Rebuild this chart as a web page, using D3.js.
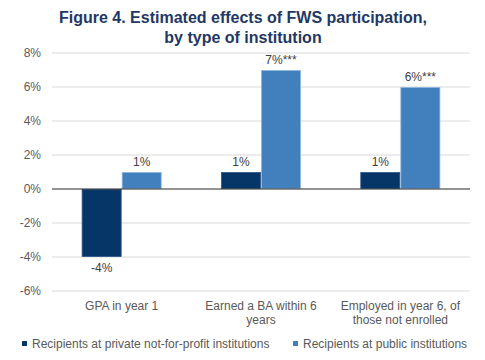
<!DOCTYPE html>
<html>
<head>
<meta charset="utf-8">
<script src="https://cdn.jsdelivr.net/npm/d3@7"></script>
<style>
  body { margin: 0; background: #fff; }
  text { font-family: "Liberation Sans", Arial, sans-serif; }
</style>
</head>
<body>
<script>
const categories = [
    ["GPA in year 1"],
    ["Earned a BA within 6", "years"],
    ["Employed in year 6, of", "those not enrolled"]
];
const seriesNames = ["Recipients at private not-for-profit institutions", "Recipients at public institutions"];
const privateValues = [-4, 1, 1];
const publicValues = [1, 7, 6];
const privateLabels = ["-4%", "1%", "1%"];
const publicLabels = ["1%", "7%***", "6%***"];
const yTicks = [-6, -4, -2, 0, 2, 4, 6, 8];
const colors = ["#063667", "#417fbd"];
const borders = ["#2a5585", "#8fb6dc"];

const width = 485, height = 360;
const svg = d3.select("body").append("svg")
    .attr("width", width).attr("height", height);

// title
svg.append("text")
    .attr("x", 243).attr("y", 0)
    .attr("text-anchor", "middle")
    .style("font-size", "16px").style("font-weight", "bold")
    .style("fill", "#1f3864")
    .selectAll("tspan")
    .data(["Figure 4. Estimated effects of FWS participation,", "by type of institution"])
    .enter().append("tspan")
    .attr("x", 243)
    .attr("y", (d, i) => 23 + i * 20)
    .text(d => d);

const left = 52, right = 470;
const y = d3.scaleLinear().domain([-6, 8]).range([291, 53]);
const x = d3.scaleBand()
    .domain(d3.range(categories.length))
    .range([left, right])
    .paddingInner(0).paddingOuter(0);
const x1 = d3.scaleBand()
    .domain([0, 1])
    .range([0, x.bandwidth()])
    .paddingInner(0)
    .paddingOuter(0.74);

// gridlines
svg.append("g").selectAll("line")
    .data(yTicks.filter(t => t !== 0))
    .enter().append("line")
    .attr("x1", left).attr("x2", right)
    .attr("y1", d => y(d)).attr("y2", d => y(d))
    .attr("stroke", "#d9d9d9").attr("stroke-width", 1);

// y axis labels
const yAxis = svg.append("g")
    .attr("transform", `translate(${left},0)`)
    .call(d3.axisLeft(y).tickValues(yTicks).tickSize(0).tickPadding(11).tickFormat(d => d + "%"));
yAxis.select(".domain").remove();
yAxis.selectAll("text")
    .style("font-size", "12px")
    .style("font-family", '"Liberation Sans", Arial, sans-serif')
    .attr("fill", "#595959");

const series = [privateValues, publicValues];
const labels = [privateLabels, publicLabels];

series.forEach((vals, s) => {
    svg.append("g").selectAll("rect")
        .data(vals)
        .enter().append("rect")
        .attr("x", (d, i) => x(i) + x1(s) + 0.5)
        .attr("y", d => y(Math.max(0, d)) + 0.5)
        .attr("width", x1.bandwidth() - 1)
        .attr("height", d => Math.abs(y(d) - y(0)) - 1)
        .attr("fill", colors[s])
        .attr("stroke", borders[s])
        .attr("stroke-width", 0.8);

    svg.append("g").selectAll("text")
        .data(vals)
        .enter().append("text")
        .attr("x", (d, i) => x(i) + x1(s) + x1.bandwidth() / 2)
        .attr("y", d => d >= 0 ? y(d) - 6 : y(d) + 15)
        .attr("text-anchor", "middle")
        .style("font-size", "12px")
        .style("fill", "#404040")
        .text((d, i) => labels[s][i]);
});

// zero line
svg.append("line")
    .attr("x1", left).attr("x2", right)
    .attr("y1", y(0)).attr("y2", y(0))
    .attr("stroke", "#262626").attr("stroke-width", 1);

// category labels
const catG = svg.append("g").selectAll("text")
    .data(categories)
    .enter().append("text")
    .attr("text-anchor", "middle")
    .style("font-size", "12px")
    .style("fill", "#595959");
catG.selectAll("tspan")
    .data((d, i) => d.map(t => ({t, i})))
    .enter().append("tspan")
    .attr("x", d => x(d.i) + x.bandwidth() / 2)
    .attr("y", (d, j) => 310 + j * 14)
    .text(d => d.t);

// legend
const legendX = [22, 293];
const legend = svg.append("g").selectAll("g")
    .data(seriesNames)
    .enter().append("g")
    .attr("transform", (d, i) => `translate(${legendX[i]},348)`);
legend.append("rect")
    .attr("x", 0).attr("y", -7)
    .attr("width", 5).attr("height", 5)
    .attr("fill", (d, i) => colors[i]);
legend.append("text")
    .attr("x", 10).attr("y", 0)
    .style("font-size", "12px")
    .style("fill", "#595959")
    .text(d => d);
</script>
</body>
</html>
